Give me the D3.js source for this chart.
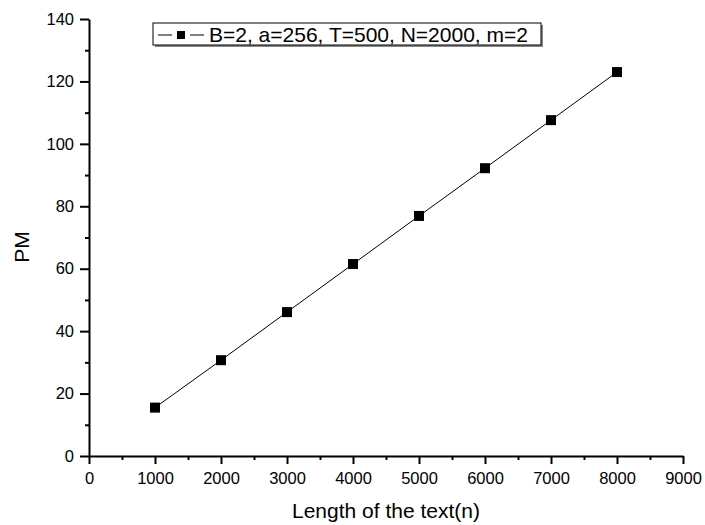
<!DOCTYPE html>
<html>
<head>
<meta charset="utf-8">
<script src="https://cdn.jsdelivr.net/npm/d3@7/dist/d3.min.js"></script>
<style>
body{margin:0;background:#fff;}
text{font-family:"Liberation Sans",Arial,sans-serif;}
</style>
</head>
<body>
<div id="graphHolder"></div>
<script>
var textLength = [1000,2000,3000,4000,5000,6000,7000,8000];
var pmValues = [15.5,30.7,46.1,61.5,76.9,92.2,107.6,123.0];
var xTicks = [0,1000,2000,3000,4000,5000,6000,7000,8000,9000];
var yTicks = [0,20,40,60,80,100,120,140];
var legendLabel = "B=2, a=256, T=500, N=2000, m=2";

var W = 705, H = 525;
var plotLeft = 89, plotRight = 683, plotTop = 19, plotBottom = 456;

var svg = d3.select("#graphHolder").append("svg")
	.attr("width",W).attr("height",H);

var xscale = d3.scaleLinear().domain([0,9000]).range([plotLeft,plotRight]);
var yscale = d3.scaleLinear().domain([0,140]).range([plotBottom,plotTop]);

// minor ticks first
var xMinor = d3.range(500,9000,1000);
var yMinor = d3.range(10,140,20);
svg.append("g").attr("transform","translate(0,"+plotBottom+")")
	.call(d3.axisBottom(xscale).tickValues(xMinor).tickSize(4).tickFormat(""))
	.call(function(g){g.select(".domain").remove();})
	.selectAll("line").attr("stroke-width",2);
svg.append("g").attr("transform","translate("+plotLeft+",0)")
	.call(d3.axisLeft(yscale).tickValues(yMinor).tickSize(4).tickFormat(""))
	.call(function(g){g.select(".domain").remove();})
	.selectAll("line").attr("stroke-width",2);

var xg = svg.append("g").attr("transform","translate(0,"+plotBottom+")")
	.call(d3.axisBottom(xscale).tickValues(xTicks).tickSize(8).tickSizeOuter(0).tickPadding(8).tickFormat(d3.format("d")));
var yg = svg.append("g").attr("transform","translate("+plotLeft+",0)")
	.call(d3.axisLeft(yscale).tickValues(yTicks).tickSize(9).tickSizeOuter(0).tickPadding(6));
[xg,yg].forEach(function(g){
	g.attr("font-size",null).attr("font-family",null);
	g.select(".domain").attr("stroke-width",2);
	g.selectAll("line").attr("stroke-width",2);
	g.selectAll("text").style("font-size","16.5px").attr("fill","#000");
});

var line = d3.line()
	.x(function(d,i){return xscale(textLength[i]);})
	.y(function(d){return yscale(d);});
svg.append("path").datum(pmValues)
	.attr("d",line).attr("fill","none").attr("stroke","#000").attr("stroke-width",1);

svg.selectAll("rect.pt").data(pmValues).enter().append("rect")
	.attr("class","pt")
	.attr("x",function(d,i){return xscale(textLength[i])-5;})
	.attr("y",function(d){return yscale(d)-5;})
	.attr("width",10).attr("height",10)
	.attr("fill","#000");

// axis titles
svg.append("text").text("Length of the text(n)")
	.attr("x",(plotLeft+plotRight)/2).attr("y",518)
	.attr("text-anchor","middle").style("font-size","21px");
svg.append("text").text("PM")
	.attr("transform","translate(29,247) rotate(-90)")
	.attr("text-anchor","middle").style("font-size","21px");

// legend
var lg = svg.append("g");
var lx = 153, ly = 23, lw = 388, lh = 22;
lg.append("rect").attr("x",lx+2).attr("y",ly+2).attr("width",lw).attr("height",lh).attr("fill","#888");
lg.append("rect").attr("x",lx).attr("y",ly).attr("width",lw).attr("height",lh)
	.attr("fill","#fff").attr("stroke","#000").attr("stroke-width",1);
lg.append("line").attr("x1",lx+5).attr("x2",lx+19).attr("y1",ly+12).attr("y2",ly+12)
	.attr("stroke","#000").attr("stroke-width",1);
lg.append("line").attr("x1",lx+37).attr("x2",lx+51).attr("y1",ly+12).attr("y2",ly+12)
	.attr("stroke","#000").attr("stroke-width",1);
lg.append("rect").attr("x",lx+24).attr("y",ly+8).attr("width",8).attr("height",8).attr("fill","#000");
lg.append("text").text(legendLabel).attr("x",lx+56).attr("y",ly+18.5).style("font-size","21px");
</script>
</body>
</html>
